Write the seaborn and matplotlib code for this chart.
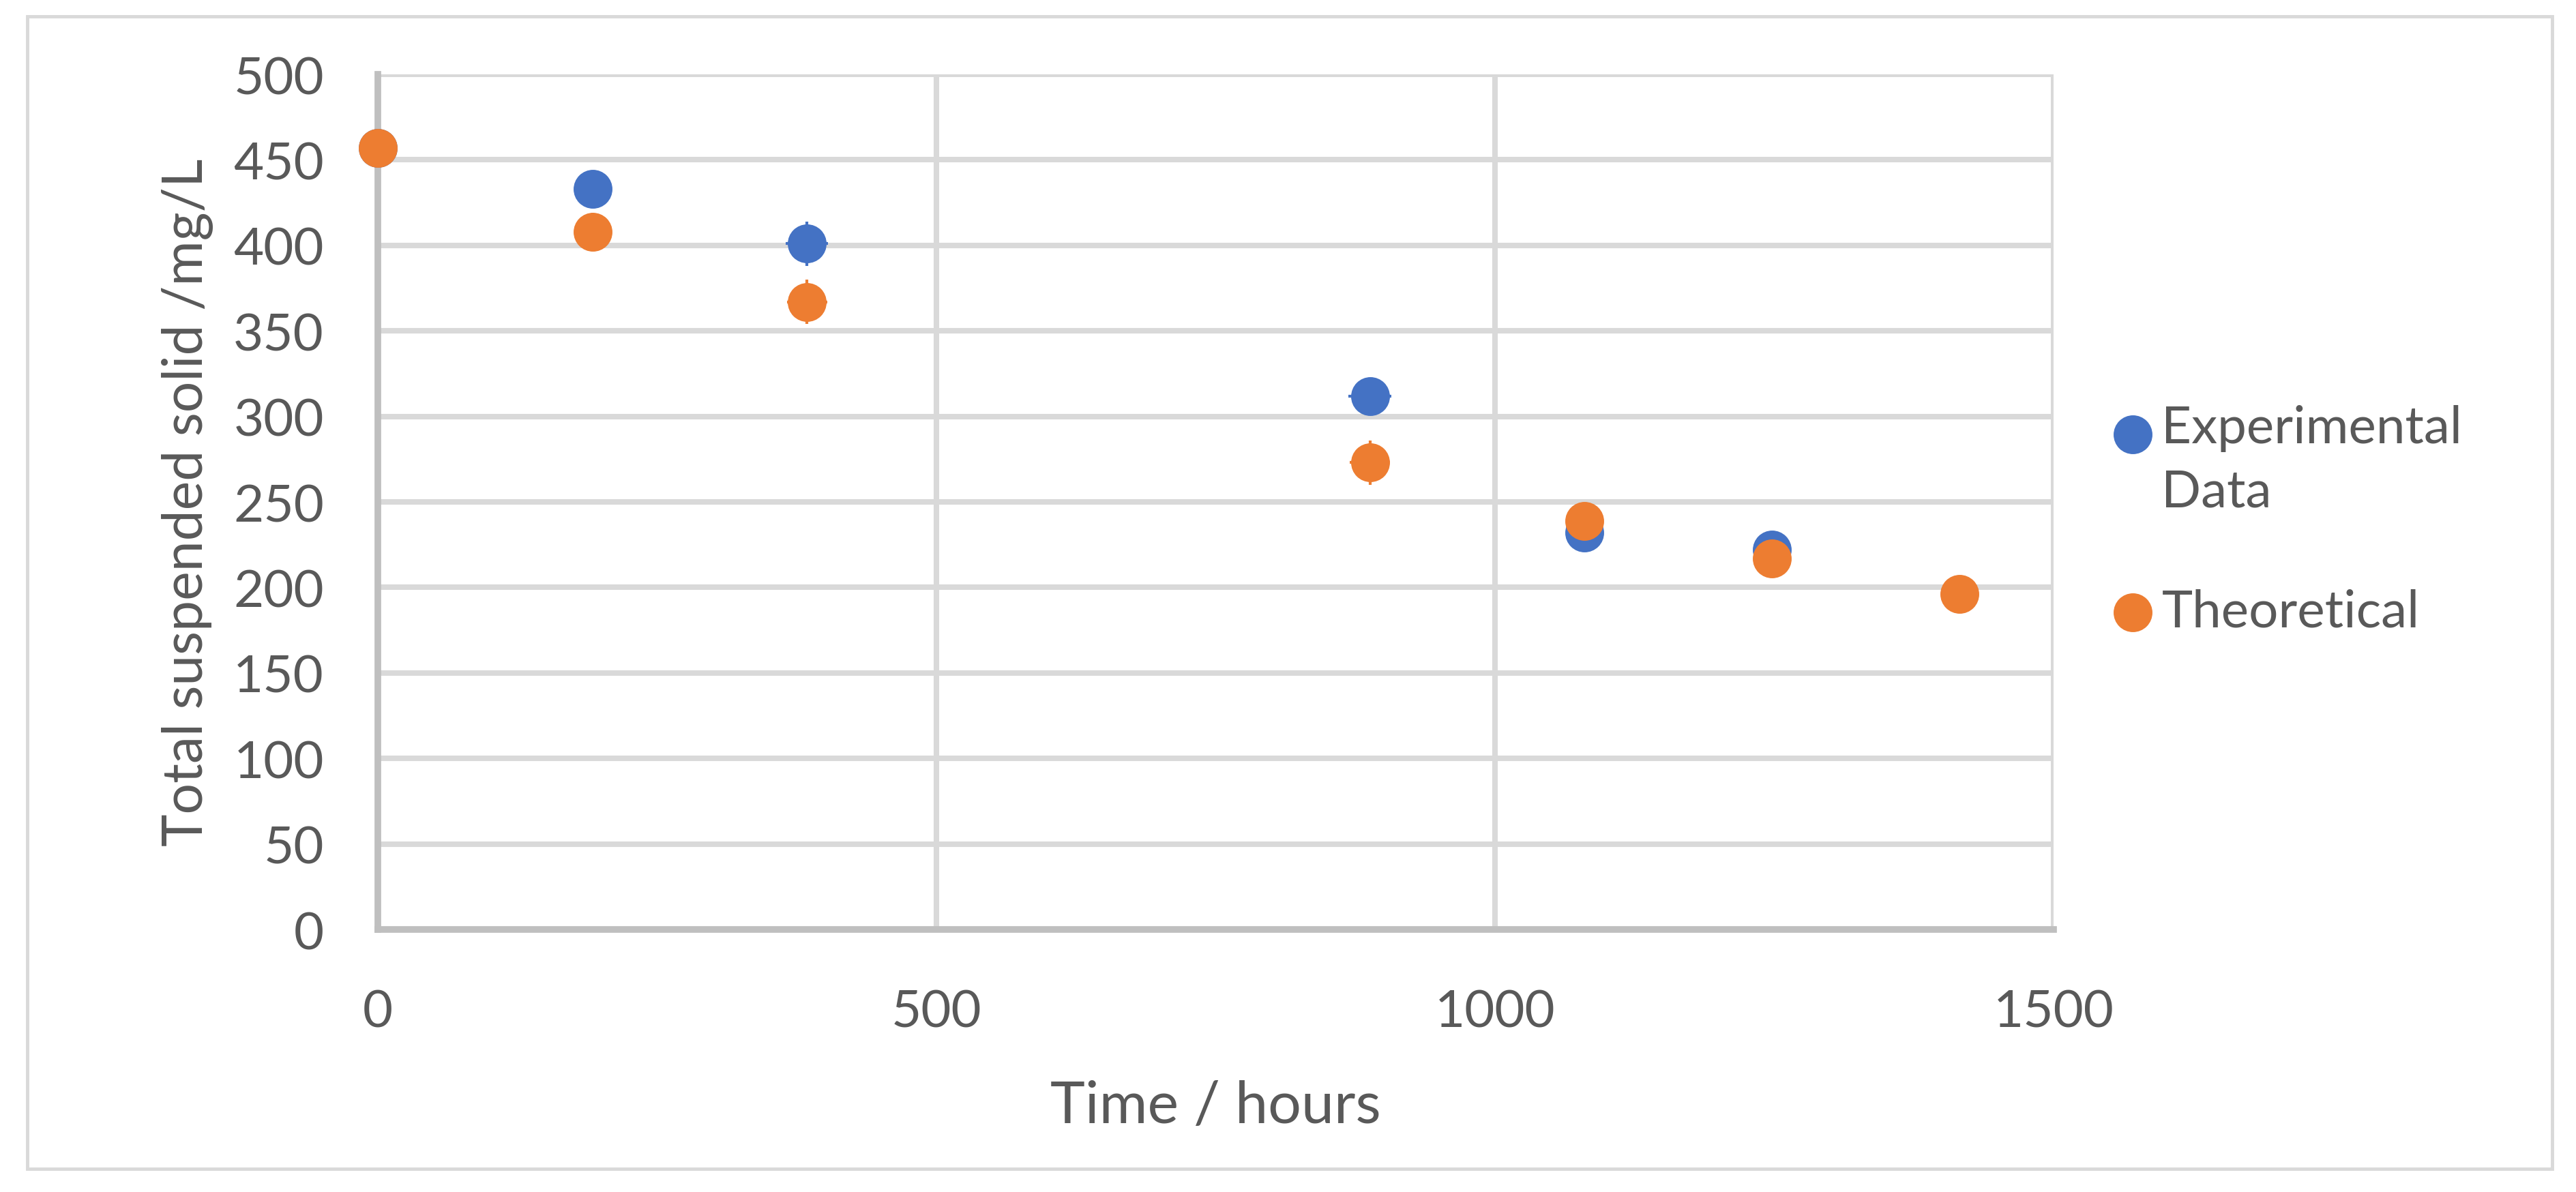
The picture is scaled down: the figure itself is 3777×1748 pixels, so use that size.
import matplotlib
matplotlib.use("Agg")
import matplotlib.pyplot as plt
import seaborn as sns
import pandas as pd
from matplotlib.patches import Rectangle

# values
exp_time = [0, 192, 384, 888, 1080, 1248]
exp_tss = [457, 433, 401, 312, 232, 222]
exp_xerr = [4, 8, 19, 19, 6, 6]
exp_yerr = [4, 6, 13, 8, 6, 6]

theo_time = [0, 192, 384, 888, 1080, 1248, 1416]
theo_tss = [457, 408, 367, 273, 239, 217, 196]
theo_xerr = [4, 8, 18, 18, 6, 6, 6]
theo_yerr = [4, 11, 13, 13, 6, 6, 6]

x_ticks = [0, 500, 1000, 1500]
y_ticks = list(range(0, 550, 50))

BLUE = "#4472C4"
ORANGE = "#ED7D31"
TEXT = "#595959"
GRID = "#d9d9d9"
AXIS = "#bfbfbf"


def build_frames():
    exp = pd.DataFrame({"time": exp_time, "tss": exp_tss, "xerr": exp_xerr, "yerr": exp_yerr})
    theo = pd.DataFrame({"time": theo_time, "tss": theo_tss, "xerr": theo_xerr, "yerr": theo_yerr})
    return exp, theo


def draw(exp, theo):
    sns.set_theme(style="white")
    plt.rcParams["font.family"] = ["Lato", "DejaVu Sans"]

    fig = plt.figure(figsize=(37.77, 17.49), dpi=100)
    ax = fig.add_axes([0.1467, 0.2201, 0.6505, 0.7170])

    # error bars first, mostly hidden under the markers
    for df, col in [(exp, BLUE), (theo, ORANGE)]:
        ax.errorbar(df["time"], df["tss"], xerr=df["xerr"], yerr=df["yerr"],
                    fmt="none", ecolor=col, elinewidth=3, capsize=0, zorder=2)

    sns.scatterplot(data=exp, x="time", y="tss", color=BLUE, s=1680, linewidth=0,
                    label="Experimental\nData", ax=ax, zorder=3, clip_on=False)
    sns.scatterplot(data=theo, x="time", y="tss", color=ORANGE, s=1680, linewidth=0,
                    label="Theoretical", ax=ax, zorder=4, clip_on=False)

    ax.set_xlim(0, 1500)
    ax.set_ylim(0, 500)
    ax.set_xticks(x_ticks)
    ax.set_yticks(y_ticks)
    ax.grid(True, color=GRID, linewidth=5.8, zorder=0)
    ax.set_axisbelow(True)

    for side in ["top", "right"]:
        ax.spines[side].set_visible(False)
    for side in ["left", "bottom"]:
        ax.spines[side].set_color(AXIS)
        ax.spines[side].set_linewidth(7)

    ax.tick_params(axis="both", length=0, labelsize=55, labelcolor=TEXT)
    ax.tick_params(axis="y", pad=57)
    ax.tick_params(axis="x", pad=62)

    ax.set_xlabel("Time / hours", fontsize=62, color=TEXT)
    ax.set_ylabel("Total suspended solid /mg/L", fontsize=58, color=TEXT)
    ax.xaxis.set_label_coords(0.5, -0.175)
    ax.yaxis.set_label_coords(-0.098, 0.5)

    leg = ax.legend(loc="upper left", bbox_to_anchor=(0.8098, 0.682),
                    bbox_transform=fig.transFigure, frameon=False, fontsize=55,
                    handlelength=0.8, handletextpad=0.15, borderpad=0,
                    labelspacing=1.4, scatterpoints=1)
    for t in leg.get_texts():
        t.set_color(TEXT)
        t.set_linespacing(1.43)
    # Excel puts the marker next to the first line of a wrapped label
    h = leg.legend_handles[0]
    off = h.get_offsets().copy()
    off[:, 1] += 33
    h.set_offsets(off)

    # thin frame around the whole chart
    fig.add_artist(Rectangle((40 / 3777, 1 - 1715 / 1749), 3702 / 3777, 1690 / 1749,
                             transform=fig.transFigure, fill=False,
                             edgecolor=GRID, linewidth=3.5))

    fig.savefig("out.png", dpi=100, facecolor="white")


def main():
    exp, theo = build_frames()
    draw(exp, theo)


if __name__ == "__main__":
    main()
